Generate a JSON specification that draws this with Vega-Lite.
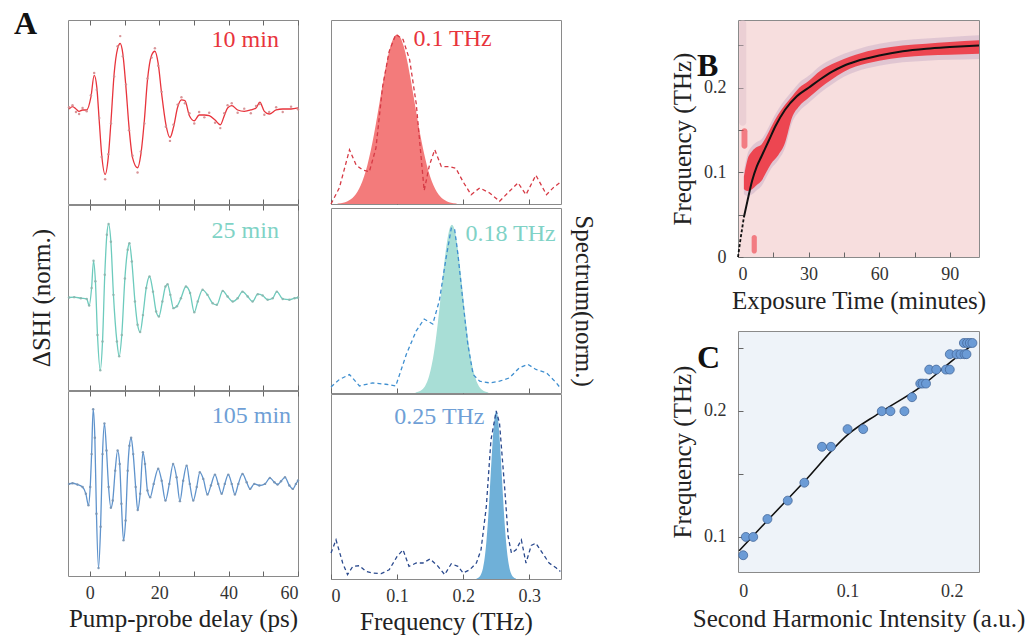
{
  "$schema": "https://vega.github.io/schema/vega-lite/v6.json",
  "padding": {"left": 13, "top": 7, "right": 2, "bottom": 2},
  "background": "white",
  "config": {
    "font": "Liberation Serif",
    "view": {"stroke": "#8a8a8a"},
    "axis": {"labelFont": "Liberation Serif", "titleFont": "Liberation Serif", "labelFontSize": 18, "titleFontSize": 25, "titleFontWeight": "normal", "labelColor": "#333333", "titleColor": "#222222", "domainColor": "#8a8a8a", "tickColor": "#666666", "grid": false, "tickSize": -5},
    "title": {"font": "Liberation Serif", "fontSize": 32, "fontWeight": "bold", "color": "#111111"},
    "text": {"font": "Liberation Serif"}
  },
  "datasets": {
    "t10": [
      {"t":-6,"v":0.015,"d":0.04},{"t":-5,"v":0.05,"d":0.07},{"t":-4,"v":0.015,"d":-0.03},{"t":-3.1,"v":-0.02,"d":-0.06},{"t":-2.1,"v":0,"d":0.03},{"t":-0.9,"v":0,"d":-0.02},
      {"t":0.3,"v":0.19,"d":0.22},{"t":1.25,"v":0.515,"d":0.55},{"t":2.0,"v":0.34,"d":0.3},{"t":2.7,"v":-0.16,"d":-0.12},{"t":3.4,"v":-0.66,"d":-0.7},{"t":4.4,"v":-0.96,"d":-1.03},
      {"t":5.3,"v":-0.71,"d":-0.66},{"t":6.1,"v":-0.16,"d":-0.2},{"t":7.0,"v":0.54,"d":0.5},{"t":8.0,"v":0.915,"d":0.95},{"t":8.75,"v":0.99,"d":1.1},{"t":9.5,"v":0.84,"d":0.8},
      {"t":10.4,"v":0.34,"d":0.38},{"t":11.3,"v":-0.26,"d":-0.3},{"t":12.3,"v":-0.71,"d":-0.68},{"t":13.75,"v":-0.86,"d":-0.93},{"t":14.7,"v":-0.66,"d":-0.62},{"t":15.7,"v":-0.16,"d":-0.2},
      {"t":16.6,"v":0.44,"d":0.47},{"t":17.8,"v":0.815,"d":0.78},{"t":18.75,"v":0.875,"d":0.92},{"t":19.7,"v":0.69,"d":0.66},{"t":20.7,"v":0.24,"d":0.27},{"t":21.9,"v":-0.21,"d":-0.25},
      {"t":23.1,"v":-0.41,"d":-0.46},{"t":24.1,"v":-0.26,"d":-0.22},{"t":25.3,"v":0.04,"d":0.08},{"t":26.4,"v":0.15,"d":0.19},{"t":27.4,"v":0.14,"d":0.1},{"t":28.7,"v":-0.085,"d":-0.05},
      {"t":30.1,"v":-0.16,"d":-0.2},{"t":31.5,"v":-0.075,"d":-0.03},{"t":33.0,"v":-0.075,"d":-0.11},{"t":34.4,"v":-0.085,"d":-0.04},{"t":36.1,"v":-0.15,"d":-0.19},{"t":37.6,"v":-0.22,"d":-0.27},
      {"t":38.75,"v":-0.085,"d":-0.05},{"t":39.7,"v":0.03,"d":0.07},{"t":40.9,"v":0.065,"d":0.1},{"t":42.6,"v":0,"d":-0.04},{"t":44.5,"v":-0.02,"d":0.02},{"t":46.4,"v":0,"d":-0.05},
      {"t":47.9,"v":0.03,"d":0.06},{"t":49.0,"v":0.115,"d":0.09},{"t":50.3,"v":-0.02,"d":-0.07},{"t":51.7,"v":-0.06,"d":-0.03},{"t":53.7,"v":0,"d":0.04},{"t":55.6,"v":0.015,"d":-0.03},
      {"t":58.0,"v":0.015,"d":0.05},{"t":60.0,"v":0.03,"d":0.01}
    ],
    "t25": [
      {"t":-6,"v":0},{"t":-4.5,"v":0.005},{"t":-2.6,"v":-0.01},{"t":-0.9,"v":-0.02},{"t":-0.2,"v":-0.11},{"t":0.5,"v":0.13},{"t":1.06,"v":0.5},{"t":1.6,"v":0.22},
      {"t":2.2,"v":-0.51},{"t":3.0,"v":-0.99},{"t":3.65,"v":-0.6},{"t":4.3,"v":0.31},{"t":4.9,"v":0.855},{"t":5.4,"v":1.0},{"t":6.06,"v":0.76},{"t":6.8,"v":0.036},
      {"t":7.8,"v":-0.6},{"t":8.46,"v":-0.8},{"t":9.2,"v":-0.51},{"t":10.1,"v":0.26},{"t":10.9,"v":0.65},{"t":11.4,"v":0.74},{"t":12.1,"v":0.49},{"t":13.0,"v":-0.055},
      {"t":13.75,"v":-0.37},{"t":14.5,"v":-0.47},{"t":15.3,"v":-0.24},{"t":16.25,"v":0.13},{"t":17.2,"v":0.286},{"t":18.2,"v":0.08},{"t":19.1,"v":-0.19},{"t":19.9,"v":-0.26},
      {"t":20.9,"v":-0.055},{"t":21.8,"v":0.15},{"t":22.4,"v":0.18},{"t":23.2,"v":0.036},{"t":24.1,"v":-0.145},{"t":25.1,"v":-0.12},{"t":26.25,"v":-0.01},{"t":27.7,"v":0.15},
      {"t":28.9,"v":0.06},{"t":30.1,"v":-0.2},{"t":31.1,"v":-0.055},{"t":32.5,"v":0.105},{"t":33.9,"v":0.036},{"t":35.4,"v":-0.077},{"t":36.6,"v":-0.1},{"t":38.3,"v":0.09},
      {"t":39.7,"v":0.014},{"t":41.2,"v":-0.055},{"t":42.6,"v":-0.01},{"t":44.0,"v":0.08},{"t":45.5,"v":0.014},{"t":46.9,"v":-0.055},{"t":48.4,"v":0.045},{"t":49.8,"v":0.027},
      {"t":51.25,"v":-0.03},{"t":52.7,"v":-0.01},{"t":53.9,"v":0.08},{"t":55.6,"v":-0.02},{"t":57.5,"v":-0.03},{"t":59.0,"v":-0.01},{"t":60.0,"v":0}
    ],
    "t105": [
      {"t":-6,"v":0},{"t":-5,"v":0.008},{"t":-3.6,"v":-0.008},{"t":-2.1,"v":-0.04},{"t":-1.15,"v":-0.125},{"t":-0.4,"v":-0.27},{"t":0.1,"v":-0.04},{"t":0.5,"v":0.375},
      {"t":0.96,"v":0.94},{"t":1.44,"v":0.58},{"t":1.9,"v":-0.375},{"t":2.5,"v":-1.06},{"t":3.1,"v":-0.54},{"t":3.65,"v":0.375},{"t":4.2,"v":0.76},{"t":4.8,"v":0.42},
      {"t":5.4,"v":-0.04},{"t":6.06,"v":-0.3},{"t":6.6,"v":-0.21},{"t":7.3,"v":0.167},{"t":8.0,"v":0.42},{"t":8.6,"v":0.25},{"t":9.1,"v":-0.25},{"t":9.7,"v":-0.71},
      {"t":10.3,"v":-0.46},{"t":10.9,"v":0.167},{"t":11.4,"v":0.48},{"t":11.9,"v":0.58},{"t":12.5,"v":0.375},{"t":13.2,"v":-0.04},{"t":13.8,"v":-0.33},{"t":14.5,"v":-0.125},
      {"t":15.3,"v":0.4},{"t":15.9,"v":0.25},{"t":16.6,"v":-0.083},{"t":17.4,"v":-0.167},{"t":18.4,"v":0},{"t":19.7,"v":0.19},{"t":20.7,"v":0.04},{"t":21.8,"v":-0.21},
      {"t":22.9,"v":0},{"t":24.0,"v":0.25},{"t":25.0,"v":0.083},{"t":25.96,"v":-0.217},{"t":26.9,"v":0.04},{"t":27.9,"v":0.23},{"t":28.8,"v":0},{"t":29.8,"v":-0.21},
      {"t":30.8,"v":-0.04},{"t":31.7,"v":0.146},{"t":32.7,"v":0.063},{"t":33.9,"v":-0.133},{"t":34.9,"v":-0.02},{"t":36.06,"v":0.117},{"t":37.0,"v":0},{"t":38.0,"v":-0.125},
      {"t":38.9,"v":0},{"t":39.9,"v":0.117},{"t":40.9,"v":0},{"t":41.8,"v":-0.133},{"t":42.8,"v":0},{"t":44.0,"v":0.125},{"t":45.2,"v":0.02},{"t":46.2,"v":-0.063},
      {"t":47.4,"v":0},{"t":48.85,"v":-0.02},{"t":50.5,"v":0},{"t":51.9,"v":0.075},{"t":53.2,"v":0.02},{"t":54.1,"v":-0.008},{"t":55.1,"v":0.033},{"t":56.25,"v":0.083},
      {"t":57.5,"v":-0.02},{"t":58.5,"v":-0.063},{"t":59.4,"v":0},{"t":60.0,"v":0.042}
    ],
    "g10": [
      {"f":0.01,"g":0.0027},{"f":0.02,"g":0.0095},{"f":0.025,"g":0.0166},{"f":0.03,"g":0.0282},{"f":0.035,"g":0.046},{"f":0.04,"g":0.0727},{"f":0.045,"g":0.11},{"f":0.05,"g":0.162},
      {"f":0.055,"g":0.229},{"f":0.06,"g":0.312},{"f":0.065,"g":0.41},{"f":0.07,"g":0.519},{"f":0.075,"g":0.634},{"f":0.08,"g":0.747},{"f":0.085,"g":0.849},{"f":0.09,"g":0.93},
      {"f":0.095,"g":0.982},{"f":0.1,"g":1.0},{"f":0.105,"g":0.982},{"f":0.11,"g":0.93},{"f":0.115,"g":0.849},{"f":0.12,"g":0.747},{"f":0.125,"g":0.634},{"f":0.13,"g":0.519},
      {"f":0.135,"g":0.41},{"f":0.14,"g":0.312},{"f":0.145,"g":0.229},{"f":0.15,"g":0.162},{"f":0.155,"g":0.11},{"f":0.16,"g":0.0727},{"f":0.165,"g":0.046},{"f":0.17,"g":0.0282},
      {"f":0.175,"g":0.0166},{"f":0.18,"g":0.0095},{"f":0.19,"g":0.0027}
    ],
    "g18": [
      {"f":0.128,"g":0.003},{"f":0.133,"g":0.0082},{"f":0.138,"g":0.0205},{"f":0.143,"g":0.0464},{"f":0.148,"g":0.095},{"f":0.153,"g":0.178},{"f":0.158,"g":0.301},{"f":0.163,"g":0.464},
      {"f":0.168,"g":0.649},{"f":0.173,"g":0.825},{"f":0.178,"g":0.953},{"f":0.183,"g":1.0},{"f":0.188,"g":0.953},{"f":0.193,"g":0.825},{"f":0.198,"g":0.649},{"f":0.203,"g":0.464},
      {"f":0.208,"g":0.301},{"f":0.213,"g":0.178},{"f":0.218,"g":0.095},{"f":0.223,"g":0.0464},{"f":0.228,"g":0.0205},{"f":0.233,"g":0.0082},{"f":0.238,"g":0.003}
    ],
    "g25": [
      {"f":0.22,"g":0.0022},{"f":0.225,"g":0.0143},{"f":0.2275,"g":0.032},{"f":0.23,"g":0.066},{"f":0.2325,"g":0.125},{"f":0.235,"g":0.217},{"f":0.2375,"g":0.346},{"f":0.24,"g":0.507},
      {"f":0.2425,"g":0.682},{"f":0.245,"g":0.844},{"f":0.2475,"g":0.958},{"f":0.25,"g":1.0},{"f":0.2525,"g":0.958},{"f":0.255,"g":0.844},{"f":0.2575,"g":0.682},{"f":0.26,"g":0.507},
      {"f":0.2625,"g":0.346},{"f":0.265,"g":0.217},{"f":0.2675,"g":0.125},{"f":0.27,"g":0.066},{"f":0.2725,"g":0.032},{"f":0.275,"g":0.0143},{"f":0.28,"g":0.0022}
    ],
    "r10": [
      {"f":0,"a":0},{"f":0.0126,"a":0.095},{"f":0.028,"a":0.32},{"f":0.038,"a":0.23},{"f":0.048,"a":0.2},{"f":0.058,"a":0.19},{"f":0.068,"a":0.33},{"f":0.078,"a":0.69},
      {"f":0.088,"a":0.9},{"f":0.098,"a":1.0},{"f":0.109,"a":0.97},{"f":0.119,"a":0.85},{"f":0.129,"a":0.59},{"f":0.136,"a":0.29},{"f":0.141,"a":0.08},{"f":0.149,"a":0.23},
      {"f":0.157,"a":0.32},{"f":0.167,"a":0.22},{"f":0.179,"a":0.22},{"f":0.189,"a":0.21},{"f":0.2,"a":0.13},{"f":0.212,"a":0.055},{"f":0.225,"a":0.095},{"f":0.24,"a":0.065},
      {"f":0.255,"a":0.016},{"f":0.27,"a":0.075},{"f":0.283,"a":0.125},{"f":0.295,"a":0.055},{"f":0.31,"a":0.17},{"f":0.326,"a":0.055},{"f":0.336,"a":0.095},{"f":0.346,"a":0.125}
    ],
    "r18": [
      {"f":0,"a":0.036},{"f":0.0126,"a":0.08},{"f":0.028,"a":0.11},{"f":0.043,"a":0.042},{"f":0.063,"a":0.06},{"f":0.083,"a":0.052},{"f":0.098,"a":0.042},{"f":0.114,"a":0.23},
      {"f":0.129,"a":0.37},{"f":0.141,"a":0.44},{"f":0.154,"a":0.41},{"f":0.164,"a":0.55},{"f":0.174,"a":0.8},{"f":0.182,"a":0.98},{"f":0.187,"a":0.975},{"f":0.192,"a":0.825},
      {"f":0.2,"a":0.53},{"f":0.207,"a":0.29},{"f":0.215,"a":0.11},{"f":0.225,"a":0.07},{"f":0.24,"a":0.06},{"f":0.255,"a":0.07},{"f":0.27,"a":0.09},{"f":0.285,"a":0.15},
      {"f":0.298,"a":0.17},{"f":0.31,"a":0.14},{"f":0.326,"a":0.12},{"f":0.341,"a":0.06},{"f":0.347,"a":0.03}
    ],
    "r25": [
      {"f":0,"a":0.154},{"f":0.0076,"a":0.233},{"f":0.0177,"a":0.095},{"f":0.025,"a":0.026},{"f":0.033,"a":0.075},{"f":0.043,"a":0.079},{"f":0.053,"a":0.045},{"f":0.063,"a":0.036},
      {"f":0.076,"a":0.032},{"f":0.088,"a":0.055},{"f":0.1,"a":0.134},{"f":0.109,"a":0.174},{"f":0.118,"a":0.075},{"f":0.129,"a":0.095},{"f":0.139,"a":0.095},{"f":0.15,"a":0.119},
      {"f":0.162,"a":0.075},{"f":0.172,"a":0.026},{"f":0.182,"a":0.091},{"f":0.192,"a":0.075},{"f":0.2,"a":0.036},{"f":0.21,"a":0.055},{"f":0.22,"a":0.095},{"f":0.227,"a":0.174},
      {"f":0.235,"a":0.43},{"f":0.242,"a":0.826},{"f":0.25,"a":1.0},{"f":0.255,"a":0.925},{"f":0.263,"a":0.53},{"f":0.268,"a":0.253},{"f":0.273,"a":0.154},{"f":0.28,"a":0.174},
      {"f":0.288,"a":0.233},{"f":0.295,"a":0.095},{"f":0.303,"a":0.2},{"f":0.31,"a":0.213},{"f":0.32,"a":0.154},{"f":0.33,"a":0.095},{"f":0.341,"a":0.065},{"f":0.347,"a":0.045}
    ],
    "band": [
      {"t":2.5,"lo":0.08,"hi":0.095,"hlo":0.074,"hhi":0.101},{"t":4,"lo":0.078,"hi":0.115,"hlo":0.072,"hhi":0.121},{"t":6,"lo":0.08,"hi":0.125,"hlo":0.074,"hhi":0.131},
      {"t":8,"lo":0.085,"hi":0.13,"hlo":0.079,"hhi":0.136},{"t":10,"lo":0.09,"hi":0.133,"hlo":0.084,"hhi":0.139},{"t":12,"lo":0.1,"hi":0.142,"hlo":0.094,"hhi":0.148},
      {"t":14,"lo":0.11,"hi":0.153,"hlo":0.104,"hhi":0.159},{"t":17,"lo":0.12,"hi":0.168,"hlo":0.114,"hhi":0.174},{"t":20,"lo":0.135,"hi":0.18,"hlo":0.129,"hhi":0.186},
      {"t":23,"lo":0.165,"hi":0.19,"hlo":0.159,"hhi":0.196},{"t":26,"lo":0.178,"hi":0.2,"hlo":0.172,"hhi":0.206},{"t":30,"lo":0.188,"hi":0.208,"hlo":0.182,"hhi":0.214},
      {"t":35,"lo":0.2,"hi":0.22,"hlo":0.194,"hhi":0.226},{"t":40,"lo":0.21,"hi":0.228,"hlo":0.204,"hhi":0.234},{"t":45,"lo":0.219,"hi":0.234,"hlo":0.213,"hhi":0.24},
      {"t":50,"lo":0.225,"hi":0.239,"hlo":0.219,"hhi":0.245},{"t":60,"lo":0.232,"hi":0.246,"hlo":0.226,"hhi":0.252},{"t":70,"lo":0.236,"hi":0.25,"hlo":0.23,"hhi":0.256},
      {"t":80,"lo":0.238,"hi":0.252,"hlo":0.232,"hhi":0.258},{"t":90,"lo":0.239,"hi":0.254,"hlo":0.233,"hhi":0.26},{"t":102.4,"lo":0.24,"hi":0.256,"hlo":0.234,"hhi":0.262}
    ],
    "redspots": [
      {"t0":1.5,"t1":4,"f0":0.128,"f1":0.152},
      {"t0":5.8,"t1":8,"f0":0.004,"f1":0.026}
    ],
    "streak": [
      {"t0":0.5,"t1":3.5,"f0":0.155,"f1":0.28}
    ],
    "curveDash": [
      {"t":0,"f":0},{"t":1,"f":0.02},{"t":2.5,"f":0.047}
    ],
    "curveSolid": [
      {"t":2.5,"f":0.047},{"t":4,"f":0.066},{"t":6,"f":0.09},{"t":8,"f":0.107},{"t":10,"f":0.119},{"t":13,"f":0.137},{"t":16,"f":0.155},{"t":20,"f":0.174},
      {"t":25,"f":0.19},{"t":30,"f":0.2},{"t":35,"f":0.21},{"t":40,"f":0.219},{"t":45,"f":0.226},{"t":50,"f":0.231},{"t":60,"f":0.238},{"t":70,"f":0.243},
      {"t":80,"f":0.246},{"t":90,"f":0.248},{"t":102.4,"f":0.25}
    ],
    "cpts": [
      {"x":0,"y":0.0855},{"x":0.0025,"y":0.1},{"x":0.0096,"y":0.1},{"x":0.0232,"y":0.1142},{"x":0.0427,"y":0.1288},{"x":0.0586,"y":0.143},{"x":0.0755,"y":0.1715},{"x":0.0841,"y":0.1715},
      {"x":0.1,"y":0.1855},{"x":0.115,"y":0.1855},{"x":0.1328,"y":0.1997},{"x":0.1411,"y":0.1997},{"x":0.1545,"y":0.1997},{"x":0.1618,"y":0.2108},{"x":0.1697,"y":0.2216},{"x":0.172,"y":0.2216},
      {"x":0.1752,"y":0.2216},{"x":0.1783,"y":0.2327},{"x":0.185,"y":0.2327},{"x":0.1943,"y":0.2327},{"x":0.198,"y":0.2327},{"x":0.198,"y":0.2449},{"x":0.2045,"y":0.2449},{"x":0.2083,"y":0.2449},
      {"x":0.2121,"y":0.2449},{"x":0.214,"y":0.2449},{"x":0.2115,"y":0.2538},{"x":0.2146,"y":0.2538},{"x":0.2172,"y":0.2538},{"x":0.2197,"y":0.2538}
    ],
    "cfit": [
      {"x":-0.004,"y":0.089},{"x":0.0232,"y":0.113},{"x":0.0586,"y":0.144},{"x":0.1,"y":0.181},{"x":0.13,"y":0.198},{"x":0.17,"y":0.219},{"x":0.2013,"y":0.2404},{"x":0.22,"y":0.2525}
    ]
  },
  "spacing": 74,
  "hconcat": [
    {
      "spacing": 25,
      "hconcat": [
        {
          "spacing": -3,
          "vconcat": [
            {
              "width": 230, "height": 184,
              "title": {"text": "A", "anchor": "start", "frame": "group", "orient": "top", "offset": 0, "dx": -54, "dy": 46, "baseline": "alphabetic", "align": "left"},
              "resolve": {"axis": {"x": "independent"}},
              "layer": [
                {"data": {"name": "t10"}, "mark": {"type": "line", "color": "#e8343c", "strokeWidth": 1.3, "interpolate": "monotone"},
                 "encoding": {
                   "x": {"field": "t", "type": "quantitative", "scale": {"domain": [-6.3, 60], "nice": false, "zero": false}, "axis": {"orient": "bottom", "values": [0,10,20,30,40,50,60], "labels": false, "domain": false, "title": null}},
                   "y": {"field": "v", "type": "quantitative", "scale": {"domain": [-1.4, 1.34], "nice": false, "zero": false}, "axis": null}}},
                {"data": {"name": "t10"}, "mark": {"type": "circle", "size": 6, "color": "#d4898d", "opacity": 0.9},
                 "encoding": {
                   "x": {"field": "t", "type": "quantitative", "axis": {"orient": "top", "values": [0,10,20,30,40,50,60], "labels": false, "domain": false, "title": null}},
                   "y": {"field": "d", "type": "quantitative", "axis": null}}},
                {"data": {"values": [{}]}, "mark": {"type": "text", "text": "10 min", "align": "right", "baseline": "alphabetic", "fontSize": 24, "color": "#e8343c"},
                 "encoding": {"x": {"datum": 54.5, "type": "quantitative", "axis": null}, "y": {"datum": 0.94, "type": "quantitative", "axis": null}}}
              ]
            },
            {
              "width": 230, "height": 185,
              "resolve": {"axis": {"x": "independent"}},
              "layer": [
                {"data": {"name": "t25"}, "mark": {"type": "line", "color": "#6dcbbd", "strokeWidth": 1.3, "interpolate": "monotone"},
                 "encoding": {
                   "x": {"field": "t", "type": "quantitative", "scale": {"domain": [-6.3, 60], "nice": false, "zero": false}, "axis": {"orient": "bottom", "values": [0,10,20,30,40,50,60], "labels": false, "domain": false, "title": null}},
                   "y": {"field": "v", "type": "quantitative", "scale": {"domain": [-1.26, 1.26], "nice": false, "zero": false}, "axis": {"title": "ΔSHI (norm.)", "labels": false, "ticks": false, "domain": false, "titlePadding": 14}}}},
                {"data": {"name": "t25"}, "mark": {"type": "circle", "size": 6, "color": "#8cb5ad", "opacity": 0.9},
                 "encoding": {
                   "x": {"field": "t", "type": "quantitative", "axis": {"orient": "top", "values": [0,10,20,30,40,50,60], "labels": false, "domain": false, "title": null}},
                   "y": {"field": "v", "type": "quantitative"}}},
                {"data": {"values": [{}]}, "mark": {"type": "text", "text": "25 min", "align": "right", "baseline": "alphabetic", "fontSize": 24, "color": "#7fd3c6"},
                 "encoding": {"x": {"datum": 54.5, "type": "quantitative", "axis": null}, "y": {"datum": 0.81, "type": "quantitative"}}}
              ]
            },
            {
              "width": 230, "height": 185,
              "resolve": {"axis": {"x": "independent"}},
              "layer": [
                {"data": {"name": "t105"}, "mark": {"type": "line", "color": "#5f93cc", "strokeWidth": 1.3, "interpolate": "monotone"},
                 "encoding": {
                   "x": {"field": "t", "type": "quantitative", "scale": {"domain": [-6.3, 60], "nice": false, "zero": false}, "axis": {"orient": "bottom", "values": [0,10,20,30,40,50,60], "format": "d", "labelExpr": "datum.value % 20 === 0 ? datum.label : ''", "labelPadding": 13, "domain": false, "title": "Pump-probe delay (ps)", "titlePadding": 4}},
                   "y": {"field": "v", "type": "quantitative", "scale": {"domain": [-1.16, 1.17], "nice": false, "zero": false}, "axis": null}}},
                {"data": {"name": "t105"}, "mark": {"type": "circle", "size": 6, "color": "#7893b3", "opacity": 0.9},
                 "encoding": {
                   "x": {"field": "t", "type": "quantitative", "axis": {"orient": "top", "values": [0,10,20,30,40,50,60], "labels": false, "domain": false, "title": null}},
                   "y": {"field": "v", "type": "quantitative", "axis": null}}},
                {"data": {"values": [{}]}, "mark": {"type": "text", "text": "105 min", "align": "right", "baseline": "alphabetic", "fontSize": 24, "color": "#6f9fd6"},
                 "encoding": {"x": {"datum": 58, "type": "quantitative", "axis": null}, "y": {"datum": 0.77, "type": "quantitative", "axis": null}}}
              ]
            }
          ]
        },
        {
          "spacing": -3,
          "vconcat": [
            {
              "width": 230, "height": 184,
              "layer": [
                {"data": {"name": "g10"}, "mark": {"type": "area", "color": "#f37b7b", "interpolate": "monotone"},
                 "encoding": {
                   "x": {"field": "f", "type": "quantitative", "scale": {"domain": [0, 0.348], "nice": false}, "axis": {"orient": "bottom", "values": [0,0.05,0.1,0.15,0.2,0.25,0.3], "labels": false, "domain": false, "title": null}},
                   "y": {"field": "g", "type": "quantitative", "scale": {"domain": [0, 1.085], "nice": false}, "axis": null}}},
                {"data": {"name": "r10"}, "mark": {"type": "line", "color": "#d63a45", "strokeWidth": 1.3, "strokeDash": [4, 3]},
                 "encoding": {
                   "x": {"field": "f", "type": "quantitative"},
                   "y": {"field": "a", "type": "quantitative", "axis": null}}},
                {"data": {"values": [{}]}, "mark": {"type": "text", "text": "0.1 THz", "align": "left", "baseline": "alphabetic", "fontSize": 24, "color": "#e8343c"},
                 "encoding": {"x": {"datum": 0.1247, "type": "quantitative"}, "y": {"datum": 0.93, "type": "quantitative", "axis": null}}}
              ]
            },
            {
              "width": 230, "height": 185,
              "layer": [
                {"data": {"name": "g18"}, "mark": {"type": "area", "color": "#a8ded6", "interpolate": "monotone"},
                 "encoding": {
                   "x": {"field": "f", "type": "quantitative", "scale": {"domain": [0, 0.348], "nice": false}, "axis": {"orient": "bottom", "values": [0,0.05,0.1,0.15,0.2,0.25,0.3], "labels": false, "domain": false, "title": null}},
                   "y": {"field": "g", "type": "quantitative", "scale": {"domain": [0, 1.1], "nice": false}, "axis": {"orient": "right", "title": "Spectrum(norm.)", "labels": false, "ticks": false, "domain": false, "titlePadding": 9}}}},
                {"data": {"name": "r18"}, "mark": {"type": "line", "color": "#3f8fd0", "strokeWidth": 1.3, "strokeDash": [4, 3]},
                 "encoding": {
                   "x": {"field": "f", "type": "quantitative"},
                   "y": {"field": "a", "type": "quantitative"}}},
                {"data": {"values": [{}]}, "mark": {"type": "text", "text": "0.18 THz", "align": "left", "baseline": "alphabetic", "fontSize": 24, "color": "#80d2c6"},
                 "encoding": {"x": {"datum": 0.2035, "type": "quantitative"}, "y": {"datum": 0.905, "type": "quantitative"}}}
              ]
            },
            {
              "width": 230, "height": 185,
              "layer": [
                {"data": {"name": "g25"}, "mark": {"type": "area", "color": "#6fb0d8", "interpolate": "monotone"},
                 "encoding": {
                   "x": {"field": "f", "type": "quantitative", "scale": {"domain": [0, 0.348], "nice": false}, "axis": {"orient": "bottom", "values": [0,0.05,0.1,0.15,0.2,0.25,0.3], "format": "~g", "labelExpr": "round(datum.value*100) % 10 === 0 ? datum.label : ''", "labelPadding": 13, "domain": false, "title": "Frequency (THz)", "titlePadding": 4}},
                   "y": {"field": "g", "type": "quantitative", "scale": {"domain": [0, 1.1], "nice": false}, "axis": null}}},
                {"data": {"name": "r25"}, "mark": {"type": "line", "color": "#2b4a8e", "strokeWidth": 1.3, "strokeDash": [4, 3]},
                 "encoding": {
                   "x": {"field": "f", "type": "quantitative"},
                   "y": {"field": "a", "type": "quantitative", "axis": null}}},
                {"data": {"values": [{}]}, "mark": {"type": "text", "text": "0.25 THz", "align": "right", "baseline": "alphabetic", "fontSize": 24, "color": "#6f9fd6"},
                 "encoding": {"x": {"datum": 0.2323, "type": "quantitative"}, "y": {"datum": 0.92, "type": "quantitative", "axis": null}}}
              ]
            }
          ]
        }
      ]
    },
    {
      "spacing": 16,
      "vconcat": [
        {
          "width": 241, "height": 237,
          "view": {"fill": "#f7dede", "stroke": "#8a8a8a"},
          "title": {"text": "B", "anchor": "start", "frame": "group", "orient": "top", "offset": 0, "dx": -41, "dy": 88, "baseline": "alphabetic", "align": "left"},
          "layer": [
            {"data": {"name": "band"}, "mark": {"type": "area", "color": "#cdb3c9", "opacity": 0.55, "interpolate": "monotone"},
             "encoding": {
               "x": {"field": "t", "type": "quantitative", "scale": {"domain": [0, 102.4], "nice": false}, "axis": {"values": [0,15,30,45,60,75,90], "format": "d", "labelExpr": "datum.value % 30 === 0 ? datum.label : ''", "labelPadding": 13, "domain": false, "title": "Exposure Time (minutes)", "titlePadding": 5}},
               "y": {"field": "hlo", "type": "quantitative", "scale": {"domain": [0, 0.28], "nice": false}, "axis": {"values": [0,0.05,0.1,0.15,0.2,0.25], "format": "~g", "labelExpr": "round(datum.value*100) % 10 === 0 ? datum.label : ''", "labelPadding": 17, "domain": false, "title": "Frequency (THz)", "titlePadding": 8}},
               "y2": {"field": "hhi"}}},
            {"data": {"name": "streak"}, "mark": {"type": "rect", "color": "#dcbcc8", "opacity": 0.45, "cornerRadius": 4},
             "encoding": {"x": {"field": "t0", "type": "quantitative"}, "x2": {"field": "t1"}, "y": {"field": "f0", "type": "quantitative"}, "y2": {"field": "f1"}}},
            {"data": {"name": "band"}, "mark": {"type": "area", "color": "#ee3b45", "opacity": 0.92, "interpolate": "monotone"},
             "encoding": {
               "x": {"field": "t", "type": "quantitative"},
               "y": {"field": "lo", "type": "quantitative"},
               "y2": {"field": "hi"}}},
            {"data": {"name": "redspots"}, "mark": {"type": "rect", "color": "#ee3b45", "opacity": 0.6, "cornerRadius": 4},
             "encoding": {"x": {"field": "t0", "type": "quantitative"}, "x2": {"field": "t1"}, "y": {"field": "f0", "type": "quantitative"}, "y2": {"field": "f1"}}},
            {"data": {"name": "curveDash"}, "mark": {"type": "line", "color": "#111111", "strokeWidth": 1.8, "strokeDash": [3, 2]},
             "encoding": {"x": {"field": "t", "type": "quantitative"}, "y": {"field": "f", "type": "quantitative"}}},
            {"data": {"name": "curveSolid"}, "mark": {"type": "line", "color": "#111111", "strokeWidth": 2, "interpolate": "monotone"},
             "encoding": {"x": {"field": "t", "type": "quantitative"}, "y": {"field": "f", "type": "quantitative"}}}
          ]
        },
        {
          "width": 241, "height": 241,
          "view": {"fill": "#eef3f9", "stroke": "#8a8a8a"},
          "title": {"text": "C", "anchor": "start", "frame": "group", "orient": "top", "offset": 0, "dx": -41, "dy": 69, "baseline": "alphabetic", "align": "left"},
          "layer": [
            {"data": {"name": "cfit"}, "mark": {"type": "line", "color": "#111111", "strokeWidth": 1.6, "interpolate": "monotone"},
             "encoding": {
               "x": {"field": "x", "type": "quantitative", "scale": {"domain": [-0.005, 0.226], "nice": false, "zero": false}, "axis": {"values": [0, 0.1, 0.2], "format": "~g", "ticks": false, "labelPadding": 10, "domain": false, "title": "Second Harmonic Intensity (a.u.)", "titlePadding": 6}},
               "y": {"field": "y", "type": "quantitative", "scale": {"domain": [0.0722, 0.2633], "nice": false, "zero": false}, "axis": {"values": [0.1, 0.15, 0.2, 0.25], "format": "~g", "labelExpr": "round(datum.value*100) % 10 === 0 ? datum.label : ''", "labelPadding": 17, "domain": false, "title": "Frequency (THz)", "titlePadding": 8}}}},
            {"data": {"name": "cpts"}, "mark": {"type": "circle", "size": 80, "color": "#6b9bd6", "stroke": "#45689a", "strokeWidth": 0.8, "opacity": 1},
             "encoding": {
               "x": {"field": "x", "type": "quantitative"},
               "y": {"field": "y", "type": "quantitative"}}}
          ]
        }
      ]
    }
  ]
}
